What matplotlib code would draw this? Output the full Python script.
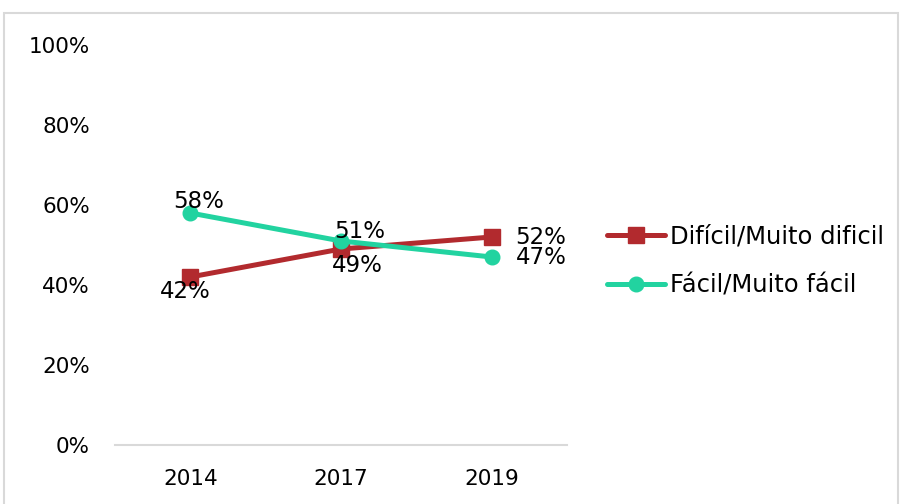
import matplotlib
matplotlib.use("Agg")
import matplotlib.pyplot as plt
from matplotlib.patches import Rectangle

years = ["2014", "2017", "2019"]
dificil = [42, 49, 52]
facil = [58, 51, 47]
series_names = ["Difícil/Muito dificil", "Fácil/Muito fácil"]
y_ticks = [0, 20, 40, 60, 80, 100]

plt.rcParams['font.family'] = ['DejaVu Sans']
FS = 15.5
LFS = 17.5

fig = plt.figure(figsize=(9.02, 5.04), dpi=100)
W, H = 902, 504
ax = fig.add_axes([115 / W, (H - 445) / H, (567 - 115) / W, 400 / H])

red = "#B22A2E"
green = "#22D3A0"
x = list(range(len(years)))
ax.plot(x, dificil, color=red, lw=3.6, marker="s", ms=12, label=series_names[0], solid_capstyle="round")
ax.plot(x, facil, color=green, lw=3.6, marker="o", ms=10.5, label=series_names[1], solid_capstyle="round")

ax.set_xlim(-0.5, len(years) - 0.5)
ax.set_ylim(0, 100)
ax.set_xticks(x)
ax.set_xticklabels(years, fontsize=FS)
ax.set_yticks(y_ticks)
ax.set_yticklabels([f"{v}%" for v in y_ticks], fontsize=FS)
ax.tick_params(length=0)
ax.tick_params(axis="y", pad=18)
ax.tick_params(axis="x", pad=17)
for s in ["top", "right", "left"]:
    ax.spines[s].set_visible(False)
ax.spines["bottom"].set_color("#D9D9D9")
ax.spines["bottom"].set_linewidth(1.5)

k = 0.72
red_off = [((-5, -15), "center"), ((16, -16), "center"), ((24, 0), "left")]
green_off = [((8, 11), "center"), ((19, 10), "center"), ((24, -1), "left")]
for i, v in enumerate(dificil):
    (dx, dy), ha = red_off[i]
    ax.annotate(f"{v}%", (i, v), xytext=(dx * k, dy * k), textcoords="offset points",
                ha=ha, va="center", fontsize=FS + 1, annotation_clip=False)
for i, v in enumerate(facil):
    (dx, dy), ha = green_off[i]
    ax.annotate(f"{v}%", (i, v), xytext=(dx * k, dy * k), textcoords="offset points",
                ha=ha, va="center", fontsize=FS + 1, annotation_clip=False)

leg = ax.legend(loc="center left", bbox_to_anchor=(585 / W, (H - 261) / H),
                bbox_transform=fig.transFigure, frameon=False, fontsize=LFS,
                handlelength=2.4, handletextpad=0.2, labelspacing=1.0)

fig.patches.append(Rectangle((4 / W, -0.01), (898 - 4) / W, (H - 13) / H + 0.01,
                             transform=fig.transFigure, fill=False,
                             edgecolor="#D9D9D9", lw=1.5))

fig.savefig("out.png", dpi=100)
